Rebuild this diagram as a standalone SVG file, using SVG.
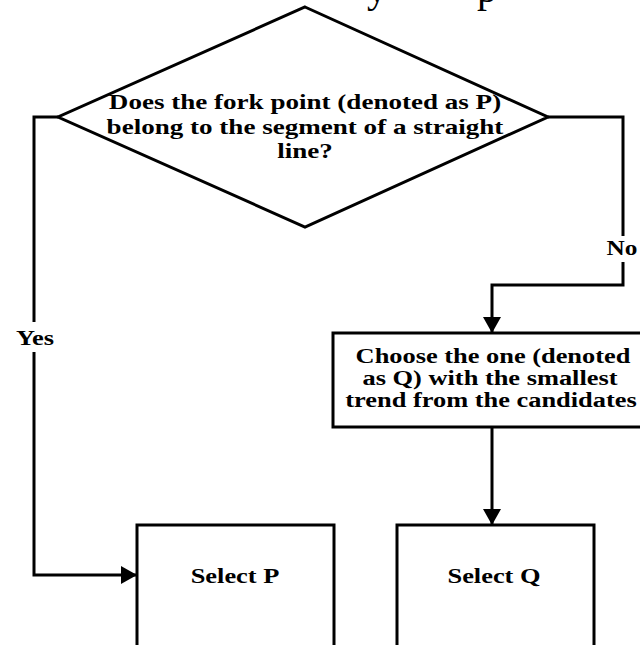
<svg xmlns="http://www.w3.org/2000/svg" width="640" height="645" viewBox="0 0 640 645">
<defs>
<marker id="arr" viewBox="0 0 16 18" refX="16" refY="9" markerWidth="16" markerHeight="18" markerUnits="userSpaceOnUse" orient="auto">
<path d="M0,0 L16,9 L0,18 z" fill="#000"/>
</marker>
<style>
.shape{fill:#fff;stroke:#000;stroke-width:3}
.con{fill:none;stroke:#000;stroke-width:3}
.t{font-family:"Liberation Serif","Times New Roman",serif;font-weight:bold;font-size:22px;fill:#000;text-anchor:middle}
.frag{font-family:"Liberation Serif","Times New Roman",serif;font-size:40px;fill:#000;text-anchor:middle}
</style>
</defs>
<rect width="640" height="645" fill="#fff"/>
<text class="frag" x="377" y="2">y</text>
<text class="frag" x="487" y="2">p</text>
<g id="connectors">
<path class="con" d="M58,117 H34 V322"/>
<path class="con" d="M34,352 V575 H137" marker-end="url(#arr)"/>
<path class="con" d="M548,117 H623 V236"/>
<path class="con" d="M623,262 V285 H492 V333" marker-end="url(#arr)"/>
<path class="con" d="M492,427 V525" marker-end="url(#arr)"/>
</g>
<g id="decision">
<polygon class="shape" points="305,7 548,117 305,227 58,117"/>
<text class="t" transform="translate(305,109) scale(1.23,1)">Does the fork point (denoted as P)</text>
<text class="t" transform="translate(305,134) scale(1.23,1)">belong to the segment of a straight</text>
<text class="t" transform="translate(305,158) scale(1.23,1)">line?</text>
</g>
<g id="label-yes">
<text class="t" transform="translate(35,345) scale(1.2,1)">Yes</text>
</g>
<g id="label-no">
<text class="t" transform="translate(622,255) scale(1.15,1)">No</text>
</g>
<g id="choose">
<rect class="shape" x="333" y="333" width="316" height="94"/>
<text class="t" transform="translate(493,363) scale(1.2,1)">Choose the one (denoted</text>
<text class="t" transform="translate(490,385) scale(1.2,1)">as Q) with the smallest</text>
<text class="t" transform="translate(491,407) scale(1.2,1)">trend from the candidates</text>
</g>
<g id="select-p">
<rect class="shape" x="137" y="525" width="197" height="130"/>
<text class="t" transform="translate(235,583) scale(1.2,1)">Select P</text>
</g>
<g id="select-q">
<rect class="shape" x="397" y="525" width="197" height="130"/>
<text class="t" transform="translate(494,583) scale(1.2,1)">Select Q</text>
</g>
</svg>
